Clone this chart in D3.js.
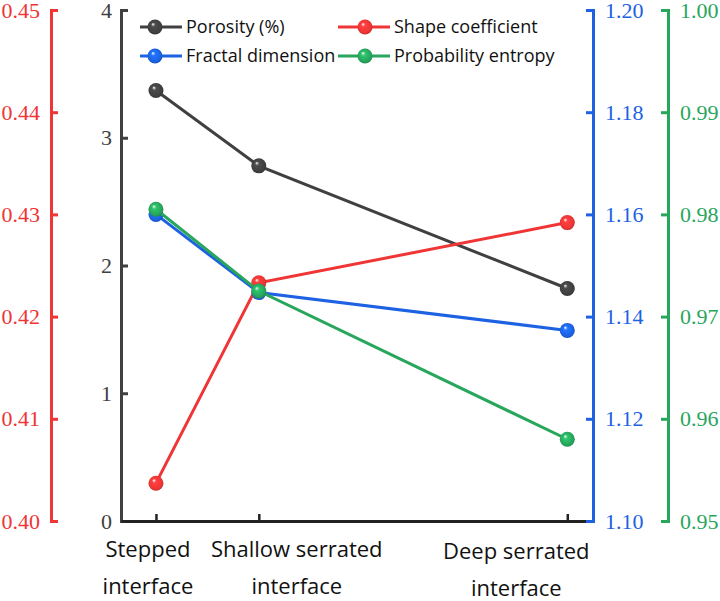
<!DOCTYPE html>
<html>
<head>
<meta charset="utf-8">
<script src="https://cdn.jsdelivr.net/npm/d3@7"></script>
<style>
  body { margin: 0; background: #fff; }
  svg { display: block; }
</style>
</head>
<body>
<svg id="chart" width="720" height="601"></svg>
<script>
const categories = ["Stepped interface", "Shallow serrated interface", "Deep serrated interface"];
const xValues = [1, 2, 5];
const porosity = [3.37, 2.78, 1.82];
const shapeCoef = [0.4037, 0.4233, 0.4292];
const fractalDim = [1.160, 1.1447, 1.1373];
const probEntropy = [0.9805, 0.9725, 0.958];

const blackTicks = [0, 1, 2, 3, 4];
const redTicks = [0.40, 0.41, 0.42, 0.43, 0.44, 0.45];
const blueTicks = [1.10, 1.12, 1.14, 1.16, 1.18, 1.20];
const greenTicks = [0.95, 0.96, 0.97, 0.98, 0.99, 1.00];

const C = {
  black: "#404040",
  red: "#ef3535",
  blue: "#1c62e2",
  green: "#27a65c"
};

const plot = { left: 121, right: 593, top: 10, bottom: 521 };
const redX = 51, greenX = 668;

const svg = d3.select("#chart");

const x = d3.scaleLinear().domain([0.66, 5.25]).range([plot.left, plot.right]);
const yBlack = d3.scaleLinear().domain([0, 4]).range([plot.bottom, plot.top]);
const yRed = d3.scaleLinear().domain([0.40, 0.45]).range([plot.bottom, plot.top]);
const yBlue = d3.scaleLinear().domain([1.10, 1.20]).range([plot.bottom, plot.top]);
const yGreen = d3.scaleLinear().domain([0.95, 1.00]).range([plot.bottom, plot.top]);

// sphere gradients
const defs = svg.append("defs");
Object.entries(C).forEach(([k, col]) => {
  const g = defs.append("radialGradient").attr("id", "ball-" + k)
    .attr("cx", "50%").attr("cy", "50%").attr("r", "55%")
    .attr("fx", "35%").attr("fy", "30%");
  g.append("stop").attr("offset", "0%").attr("stop-color", "#ffffff").attr("stop-opacity", 0.9);
  g.append("stop").attr("offset", "25%").attr("stop-color", d3.color(col).brighter(0.5));
  g.append("stop").attr("offset", "75%").attr("stop-color", col);
  g.append("stop").attr("offset", "100%").attr("stop-color", d3.color(col).darker(0.6));
});

const tickFont = "'Liberation Serif', 'Times New Roman', serif";

function styleAxis(g, col) {
  g.selectAll(".domain").attr("stroke", col).attr("stroke-width", 3);
  g.selectAll(".tick line").attr("stroke", col).attr("stroke-width", 3);
  g.selectAll(".tick text").attr("fill", col).attr("font-family", tickFont).attr("font-size", 22);
}

// red axis (far left)
svg.append("g").attr("transform", `translate(${redX},0)`)
  .call(d3.axisLeft(yRed).tickValues(redTicks).tickFormat(d3.format(".2f"))
    .tickSizeInner(-7).tickSizeOuter(-7).tickPadding(11))
  .call(g => styleAxis(g, C.red));

// black axis
svg.append("g").attr("transform", `translate(${plot.left},0)`)
  .call(d3.axisLeft(yBlack).tickValues(blackTicks).tickFormat(d3.format("d"))
    .tickSizeInner(-7).tickSizeOuter(-7).tickPadding(9))
  .call(g => styleAxis(g, C.black));

// bottom axis
svg.append("g").attr("transform", `translate(0,${plot.bottom})`)
  .call(d3.axisBottom(x).tickValues(xValues).tickFormat("").tickSizeInner(-7).tickSizeOuter(0))
  .call(g => {
    g.selectAll(".domain").attr("stroke", "#222").attr("stroke-width", 3);
    g.selectAll(".tick line").attr("stroke", "#222").attr("stroke-width", 2.5);
  });

// blue axis
svg.append("g").attr("transform", `translate(${plot.right},0)`)
  .call(d3.axisRight(yBlue).tickValues(blueTicks).tickFormat(d3.format(".2f"))
    .tickSizeInner(-7).tickSizeOuter(-7).tickPadding(12))
  .call(g => styleAxis(g, C.blue));

// green axis
svg.append("g").attr("transform", `translate(${greenX},0)`)
  .call(d3.axisRight(yGreen).tickValues(greenTicks).tickFormat(d3.format(".2f"))
    .tickSizeInner(-7).tickSizeOuter(-7).tickPadding(12))
  .call(g => styleAxis(g, C.green));

// category labels, two lines each
const labelShift = [-8, 38, -51];
const labelFont = "'Open Sans', 'Noto Sans', sans-serif";
categories.forEach((c, i) => {
  const words = c.split(" ");
  const line2 = words.pop();
  const t = svg.append("text")
    .attr("font-family", labelFont).attr("font-size", 22).attr("fill", "#111")
    .attr("text-anchor", "middle");
  const cx = x(xValues[i]) + labelShift[i];
  const dy = i === 2 ? 2 : 0;
  t.append("tspan").attr("x", cx).attr("y", 557 + dy).text(words.join(" "));
  t.append("tspan").attr("x", cx).attr("y", 594 + dy).text(line2);
});

// series
const series = [
  { name: "Porosity (%)", values: porosity, y: yBlack, key: "black" },
  { name: "Shape coefficient", values: shapeCoef, y: yRed, key: "red" },
  { name: "Fractal dimension", values: fractalDim, y: yBlue, key: "blue" },
  { name: "Probability entropy", values: probEntropy, y: yGreen, key: "green" }
];

series.forEach(s => {
  const pts = s.values.map((v, i) => [x(xValues[i]), s.y(v)]);
  svg.append("path").datum(pts)
    .attr("d", d3.line())
    .attr("fill", "none").attr("stroke", C[s.key]).attr("stroke-width", 3);
  svg.append("g").selectAll("circle").data(pts).join("circle")
    .attr("cx", d => d[0]).attr("cy", d => d[1]).attr("r", 7.5)
    .attr("fill", `url(#ball-${s.key})`);
});

// legend
const legendPos = [[140, 27], [338, 27], [140, 56], [338, 56]];
const legendLen = [42, 52, 42, 52];
series.forEach((s, i) => {
  const [lx, ly] = legendPos[i];
  const g = svg.append("g").attr("transform", `translate(${lx},${ly})`);
  g.append("line").attr("x1", 0).attr("x2", legendLen[i]).attr("y1", 0).attr("y2", 0)
    .attr("stroke", C[s.key]).attr("stroke-width", 3);
  g.append("circle").attr("cx", legendLen[i] / 2 - (i % 2 ? -1 : 6)).attr("cy", 0).attr("r", 7.5)
    .attr("fill", `url(#ball-${s.key})`);
  g.append("text").attr("x", legendLen[i] + 4).attr("y", 0).attr("dy", "0.35em")
    .attr("font-family", labelFont).attr("font-size", 18).attr("fill", "#111")
    .text(s.name);
});
</script>
</body>
</html>
